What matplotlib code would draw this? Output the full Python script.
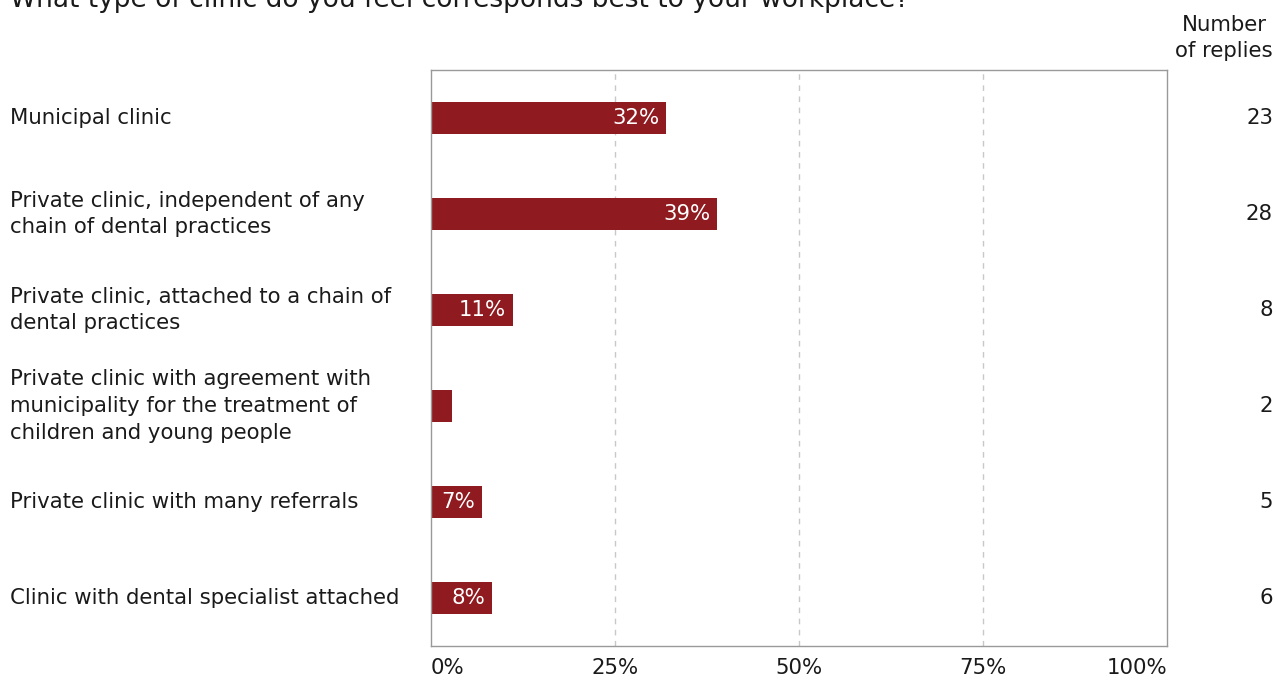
import numpy as np
import matplotlib.pyplot as plt
from matplotlib.transforms import blended_transform_factory

plt.rcParams['font.family'] = ['DejaVu Sans']

categories = [
    'Municipal clinic',
    'Private clinic, independent of any\nchain of dental practices',
    'Private clinic, attached to a chain of\ndental practices',
    'Private clinic with agreement with\nmunicipality for the treatment of\nchildren and young people',
    'Private clinic with many referrals',
    'Clinic with dental specialist attached',
]
percent = [31.9, 38.9, 11.1, 2.8, 6.9, 8.3]
bar_labels = ['32%', '39%', '11%', '', '7%', '8%']
replies = [23, 28, 8, 2, 5, 6]
xticks = [0, 25, 50, 75, 100]
xtick_labels = ['0%', '25%', '50%', '75%', '100%']
title = 'What type of clinic do you feel corresponds best to your workplace?'

bar_color = '#8f1a1f'
text_color = '#1a1a1a'
fs = 15.3

fig = plt.figure(figsize=(12.78, 6.82), dpi=100)
ax = fig.add_axes([431 / 1278, 1 - 646 / 682, (1167 - 431) / 1278, (646 - 70) / 682])

y = np.arange(len(categories))
ax.barh(y, percent, height=0.34, color=bar_color)
ax.set_xlim(0, 100)
ax.set_ylim(len(categories) - 0.5, -0.5)

# bar value labels, inside the bar end
for yi, p, lab in zip(y, percent, bar_labels):
    if lab:
        ax.text(p - 0.9, yi, lab, color='white', ha='right', va='center', fontsize=fs)

# grid
for t in xticks[1:-1]:
    ax.axvline(t, color='#c8c8c8', linestyle=(0, (4, 4)), linewidth=1, zorder=0)

for s in ax.spines.values():
    s.set_color('#999999')
    s.set_linewidth(1)

ax.set_yticks([])
ax.set_xticks(xticks)
ax.set_xticklabels(xtick_labels, fontsize=fs, color=text_color)
ax.tick_params(axis='x', length=0, pad=9)
tl = ax.get_xticklabels()
tl[0].set_ha('left')
tl[-1].set_ha('right')

# category labels and counts
tr = blended_transform_factory(fig.transFigure, ax.transData)
for yi, cat, n in zip(y, categories, replies):
    ax.text(10 / 1278, yi, cat, transform=tr, ha='left', va='center',
            fontsize=fs, linespacing=1.42, color=text_color)
    ax.text(1273 / 1278, yi, str(n), transform=tr, ha='right', va='center',
            fontsize=fs, color=text_color)

fig.text(1273 / 1278, 1 - 38 / 682, 'Number\nof replies', ha='right', va='center',
         multialignment='center', fontsize=fs, linespacing=1.42, color=text_color)
fig.text(10 / 1278, 1 - 7 / 682, title, ha='left', va='baseline', fontsize=19, color=text_color)

fig.savefig('out.png', dpi=100)
